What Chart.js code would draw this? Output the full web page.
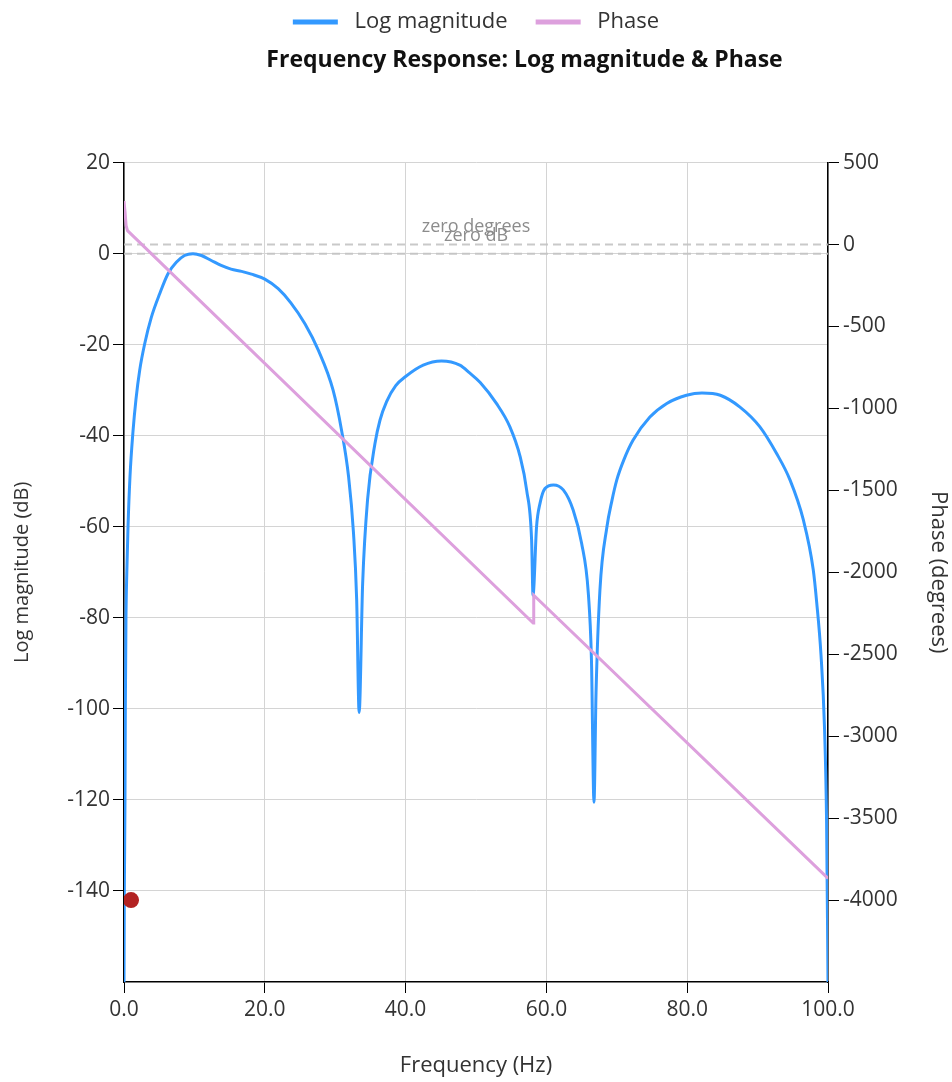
<!DOCTYPE html>
<html>
<head>
<meta charset="utf-8">
<script src="https://cdn.jsdelivr.net/npm/chart.js@4.4.1/dist/chart.umd.min.js"></script>
<style>
  html, body { margin: 0; padding: 0; background: #ffffff; }
  #wrap { width: 952px; height: 1082px; position: relative; }
</style>
</head>
<body>
<div id="wrap"><canvas id="c"></canvas></div>
<script>
// ---- Data ----
const magFreq = [0, 0.05, 0.14, 0.19, 0.28, 0.4, 0.57, 0.85, 1.28, 1.7, 2.23, 2.94, 3.88, 5.07, 6.25, 7.43, 8.6, 9.8, 11.0, 12.4, 13.8, 15.2, 16.7, 18.1, 20.0, 21.9, 23.7, 25.7, 27.6, 29.7, 30.9, 31.9, 32.6, 33.05, 33.4, 33.9, 34.6, 35.65, 36.36, 37.3, 38.6, 40.0, 42.5, 45.1, 47.7, 49.1, 50.6, 52.9, 54.8, 56.25, 57.2, 57.9, 58.1, 58.6, 59.1, 59.8, 61.0, 62.4, 63.8, 65.0, 65.95, 66.4, 66.76, 67.05, 67.6, 68.6, 69.3, 70.0, 71.0, 72.3, 74.7, 77.1, 79.9, 82.1, 84.7, 87.5, 90.3, 92.7, 94.6, 96.5, 97.9, 98.4, 99.0, 99.5, 99.8, 100];
const magDb = [-160, -140, -120, -100, -80, -70, -60, -49, -39, -32, -25.6, -19.8, -14, -8.8, -4.4, -1.9, -0.4, 0.0, -0.4, -1.5, -2.6, -3.4, -3.9, -4.5, -5.6, -7.7, -10.8, -15.4, -21.2, -30, -38.8, -49, -61.4, -76, -100.8, -72.4, -54, -41.7, -36.6, -32.5, -29.0, -27.0, -24.5, -23.6, -24.5, -26.2, -28.3, -32.9, -38, -44.5, -52, -63, -75, -60, -54.8, -51.6, -50.8, -51.9, -56.3, -63.6, -74.5, -89.2, -120.5, -96.5, -74, -60, -54.3, -49.7, -45.3, -41, -35.9, -32.9, -31.1, -30.6, -31.1, -33.7, -38, -43.9, -49.7, -58.5, -69.4, -76.7, -88, -104, -125, -160];

const phaseFreq = [0, 0.15, 0.3, 0.5, 58.12, 58.2, 100];
const phaseDeg = [265, 200, 115, 85, -2310, -2140, -3868];

const markerFreq = [1.0];
const markerDb = [-142];

const refDb = 0;      // "zero dB"
const refDeg = 0;     // "zero degrees"

const xTickStep = 20;
const magTickStep = 20;
const phaseTickStep = 500;

const FONT = "'Open Sans', 'Noto Sans', sans-serif";

const toPts = (xs, ys) => xs.map((x, i) => ({ x: x, y: ys[i] }));

const refLinesPlugin = {
  id: 'refLines',
  beforeDatasetsDraw(chart) {
    const { ctx, chartArea } = chart;
    const yM = chart.scales.yMag, yP = chart.scales.yPhase;
    const items = [
      { y: yP.getPixelForValue(refDeg), label: 'zero degrees', off: 13 },
      { y: yM.getPixelForValue(refDb), label: 'zero dB', off: 13 }
    ];
    ctx.save();
    ctx.beginPath();
    ctx.rect(chartArea.left, chartArea.top, chartArea.width, chartArea.height);
    ctx.clip();
    items.forEach(it => {
      ctx.beginPath();
      ctx.setLineDash([8, 5]);
      ctx.lineWidth = 2;
      ctx.strokeStyle = 'rgba(195,195,195,0.9)';
      ctx.moveTo(chartArea.left, it.y);
      ctx.lineTo(chartArea.right, it.y);
      ctx.stroke();
    });
    ctx.setLineDash([]);
    ctx.fillStyle = '#8c8c8c';
    ctx.font = "18px " + FONT;
    ctx.textAlign = 'center';
    ctx.textBaseline = 'alphabetic';
    const cx = (chartArea.left + chartArea.right) / 2;
    items.forEach(it => {
      ctx.fillText(it.label, cx, it.y - it.off);
    });
    ctx.restore();
  }
};

const titleShiftPlugin = {
  id: 'titleShift',
  afterLayout(chart) {
    if (chart.titleBlock) {
      chart.titleBlock.left += 97;
    }
  }
};

const ctx = document.getElementById('c').getContext('2d');
new Chart(ctx, {
  type: 'scatter',
  data: {
    datasets: [
      {
        label: 'Log magnitude',
        data: toPts(magFreq, magDb),
        showLine: true,
        borderColor: '#3399ff',
        backgroundColor: '#3399ff',
        borderWidth: 3,
        pointRadius: 0,
        cubicInterpolationMode: 'monotone',
        yAxisID: 'yMag',
        order: 2
      },
      {
        label: 'Phase',
        data: toPts(phaseFreq, phaseDeg),
        showLine: true,
        borderColor: '#dda0dd',
        backgroundColor: '#dda0dd',
        borderWidth: 3,
        pointRadius: 0,
        tension: 0,
        yAxisID: 'yPhase',
        order: 1
      },
      {
        label: 'marker',
        data: toPts(markerFreq, markerDb),
        showLine: false,
        pointRadius: 8,
        pointBackgroundColor: '#b22222',
        pointBorderColor: '#b22222',
        borderWidth: 0,
        yAxisID: 'yMag',
        order: 0
      }
    ]
  },
  options: {
    responsive: true,
    maintainAspectRatio: false,
    animation: false,
    layout: { padding: { top: -17, left: 0, right: 0, bottom: 0 } },
    plugins: {
      legend: {
        display: true,
        position: 'top',
        weight: 3000,
        labels: {
          boxWidth: 45,
          boxHeight: 5,
          padding: 28,
          color: '#333',
          font: { family: FONT, size: 22 },
          filter: (item) => item.text.trim() !== 'marker',
          sort: (a, b) => a.datasetIndex - b.datasetIndex,
          generateLabels: (chart) => {
            const items = Chart.defaults.plugins.legend.labels.generateLabels(chart);
            return items.map(it => Object.assign(it, { text: ' ' + it.text, strokeStyle: 'rgba(0,0,0,0)' }));
          }
        }
      },
      title: {
        display: true,
        text: 'Frequency Response: Log magnitude & Phase',
        color: '#111',
        font: { family: FONT, size: 23, weight: 'bold' },
        padding: { top: 4, bottom: 88 }
      },
      tooltip: { enabled: false }
    },
    scales: {
      x: {
        type: 'linear',
        min: 0,
        max: 100,
        ticks: {
          stepSize: xTickStep,
          color: '#333',
          padding: 4,
          font: { family: FONT, size: 21 },
          callback: (v) => Number(v).toFixed(1)
        },
        grid: { color: '#d4d4d4', lineWidth: 1, tickColor: '#000', tickLength: 11 },
        border: { color: '#000', width: 1.5 },
        title: { display: true, text: 'Frequency (Hz)', color: '#333', font: { family: FONT, size: 22 }, padding: { top: 4, bottom: 3 } },
        afterFit: (s) => { s.height = 100; }
      },
      yMag: {
        type: 'linear',
        position: 'left',
        min: -160,
        max: 20,
        ticks: { stepSize: magTickStep, color: '#333', padding: 3, font: { family: FONT, size: 21 }, callback: (v) => String(v) },
        afterBuildTicks: (s) => { s.ticks = s.ticks.filter(t => t.value > -160); },
        grid: { color: '#d4d4d4', lineWidth: 1, tickColor: '#000', tickLength: 11 },
        border: { color: '#000', width: 1.5 },
        title: { display: true, text: 'Log magnitude (dB)', color: '#333', font: { family: FONT, size: 20 }, padding: { top: 10, bottom: 4 } },
        afterFit: (s) => { s.width = 124; }
      },
      yPhase: {
        type: 'linear',
        position: 'right',
        min: -4500,
        max: 500,
        ticks: { stepSize: phaseTickStep, color: '#333', padding: 4, font: { family: FONT, size: 21 }, callback: (v) => String(v) },
        afterBuildTicks: (s) => { s.ticks = s.ticks.filter(t => t.value > -4500); },
        grid: { drawOnChartArea: false, tickColor: '#000', tickLength: 11 },
        border: { color: '#000', width: 1.5 },
        title: { display: true, text: 'Phase (degrees)', color: '#333', font: { family: FONT, size: 22 }, padding: { top: 1, bottom: 4 } },
        afterFit: (s) => { s.width = 124; }
      }
    }
  },
  plugins: [refLinesPlugin, titleShiftPlugin]
});
</script>
</body>
</html>
